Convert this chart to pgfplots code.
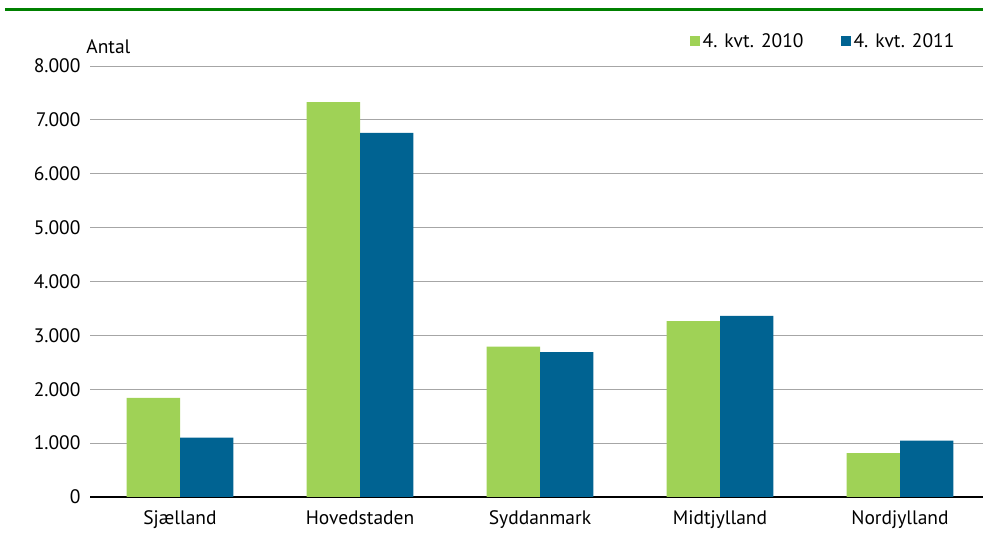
\documentclass[border=0pt]{standalone}
\usepackage{pgfplots}
\pgfplotsset{compat=1.18}
\usepackage{fontspec}
\setmainfont{PT Sans}
\definecolor{lgreen}{RGB}{159,210,86}
\definecolor{dblue}{RGB}{0,99,146}
\definecolor{rulegreen}{RGB}{0,128,0}
\begin{document}
\begin{tikzpicture}[x=1pt,y=1pt]
 \useasboundingbox (0,0) rectangle (983,533);
 \draw[rulegreen, line width=3pt] (5,523) -- (983,523);
 \begin{axis}[
  at={(90pt,36pt)}, anchor=south west,
  scale only axis,
  width=893pt, height=431pt,
  font=\fontsize{19.5}{22}\selectfont,
  ybar=0pt, bar width=0.297,
  xmin=-0.5, xmax=4.461,
  ymin=0, ymax=8000,
  ytick={0,1000,...,8000},
  xtick=data,
  xticklabels={Sjælland,Hovedstaden,Syddanmark,Midtjylland,Nordjylland},
  /pgf/number format/assume math mode=true,
  yticklabel={\pgfmathprintnumber[fixed,use comma=false,1000 sep={.}]{\tick}},
  major tick length=0pt,
  axis y line*=left, y axis line style={draw=none},
  axis x line*=bottom, x axis line style={black, line width=1.6pt, -},
  ymajorgrids, grid style={gray!70, line width=1pt},
  yticklabel style={xshift=-6pt},
  xticklabel style={yshift=-10pt},
  legend style={at={(0.975,1.03)}, anchor=south east, draw=none, fill=none,
    legend columns=2, /tikz/every even column/.append style={column sep=34pt},
    nodes={inner xsep=3pt},
    font=\fontsize{19.5}{22}\selectfont},
  legend image code/.code={\fill[#1] (0pt,-5pt) rectangle (10pt,5pt);},
  clip=false,
 ]
  \addplot[fill=lgreen, draw=none] coordinates {(0,1840) (1,7330) (2,2790) (3,3265) (4,815)};
  \addplot[fill=dblue, draw=none] coordinates {(0,1100) (1,6760) (2,2690) (3,3360) (4,1045)};
  \legend{4. kvt. 2010, 4. kvt. 2011}
  \node[anchor=south west, font=\fontsize{19.5}{22}\selectfont] at (rel axis cs:-0.008,1.02) {Antal};
 \end{axis}
\end{tikzpicture}
\end{document}
